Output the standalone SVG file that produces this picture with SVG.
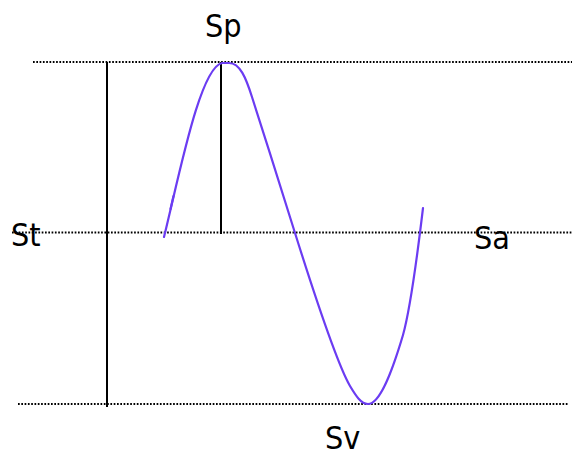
<svg xmlns="http://www.w3.org/2000/svg" width="572" height="458" viewBox="0 0 572 458">
  <style>
    .dot { stroke: #000; stroke-width: 1.8; stroke-dasharray: 1.7 1.6; fill: none; }
    .axis { stroke: #000; stroke-width: 2; fill: none; }
    .wave { stroke: #6b3cf2; stroke-width: 2.2; fill: none; stroke-linecap: round; stroke-linejoin: round; }
    .lbl { font-family: "DejaVu Sans Condensed", "DejaVu Sans", "Liberation Sans", sans-serif; font-stretch: condensed; font-size: 32px; fill: #000; }
  </style>
  <rect width="572" height="458" fill="#ffffff"/>
  <g id="guides">
    <line class="dot" x1="33" y1="62" x2="572" y2="62"/>
    <line class="dot" x1="12" y1="232.5" x2="572" y2="232.5"/>
    <line class="dot" x1="18" y1="404" x2="568" y2="404"/>
  </g>
  <g id="bars">
    <line class="axis" x1="107" y1="62" x2="107" y2="407"/>
    <line class="axis" x1="221" y1="62" x2="221" y2="234"/>
  </g>
  <g id="wave">
    <path class="wave" d="M164,237 C180,172 200,68 222,63 L229,63 C240,63 246,78 252,97 C266,140 283,195 295,233 C306,268 335,360 350,386 C356,396 361,404 368,404 C380,404 392,372 403,335 C410,310 418,250 423,208"/>
    <line class="wave" x1="173.5" y1="196" x2="170.5" y2="209" stroke-width="2.6"/>
  </g>
  <g id="labels">
    <text class="lbl" x="205" y="37">Sp</text>
    <text class="lbl" x="11" y="246">St</text>
    <text class="lbl" x="474" y="248.5">Sa</text>
    <text class="lbl" x="325" y="448.5">Sv</text>
  </g>
</svg>
